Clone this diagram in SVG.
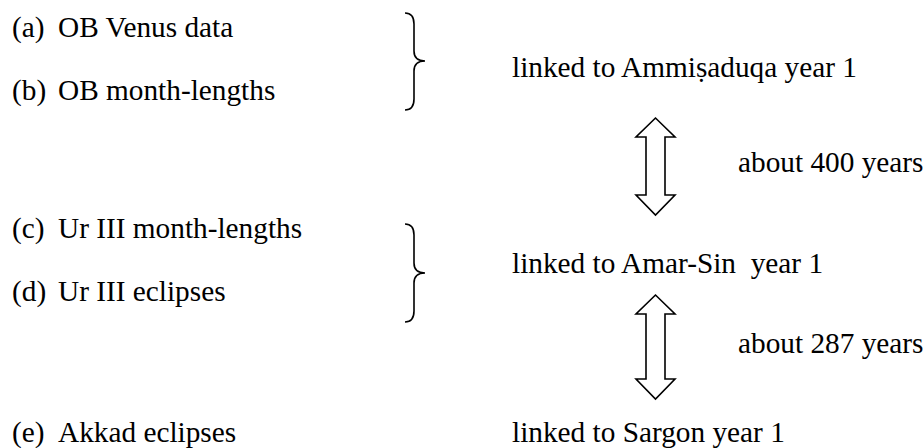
<svg xmlns="http://www.w3.org/2000/svg" width="924" height="448" viewBox="0 0 924 448">
<style>
text{font-family:'Liberation Serif','Times New Roman',Times,serif;font-size:29.3px;fill:#000;white-space:pre}
.br{fill:none;stroke:#000;stroke-width:1.6}
.ar{fill:#fff;stroke:#000;stroke-width:1.6;stroke-linejoin:miter}
</style>
<rect width="924" height="448" fill="#fff"/>
<g id="item-a"><text x="12" y="37">(a)</text><text x="58" y="37">OB Venus data</text></g>
<g id="item-b"><text x="12" y="100">(b)</text><text x="58" y="100">OB month-lengths</text></g>
<g id="item-c"><text x="12" y="238">(c)</text><text x="58" y="238">Ur III month-lengths</text></g>
<g id="item-d"><text x="12" y="301">(d)</text><text x="58" y="301">Ur III eclipses</text></g>
<g id="item-e"><text x="12" y="442">(e)</text><text x="58" y="442">Akkad eclipses</text></g>
<g id="link-ammi"><text x="512" y="77">linked to Ammiṣaduqa year 1</text></g>
<g id="link-amar"><text x="512" y="273">linked to Amar-Sin  year 1</text></g>
<g id="link-sargon"><text x="512" y="442">linked to Sargon year 1</text></g>
<g id="gap-400"><text x="738" y="172">about 400 years</text></g>
<g id="gap-287"><text x="738" y="353">about 287 years</text></g>
<g id="connectors">
<path class="br" d="M405,13 Q414,13 414,24 L414,51 Q414,61 425,61 Q414,61 414,71 L414,99 Q414,110 405,110"/>
<path class="br" d="M405,224 Q414,224 414,235 L414,263 Q414,273 425,273 Q414,273 414,283 L414,311 Q414,322 405,322"/>
<polygon class="ar" points="655.5,118 636,137 646,137 646,195 636,195 655.5,215 675,195 665,195 665,137 675,137"/>
<polygon class="ar" points="655.5,295 636,314 646,314 646,379 636,379 655.5,399 675,379 665,379 665,314 675,314"/>
</g>
</svg>
